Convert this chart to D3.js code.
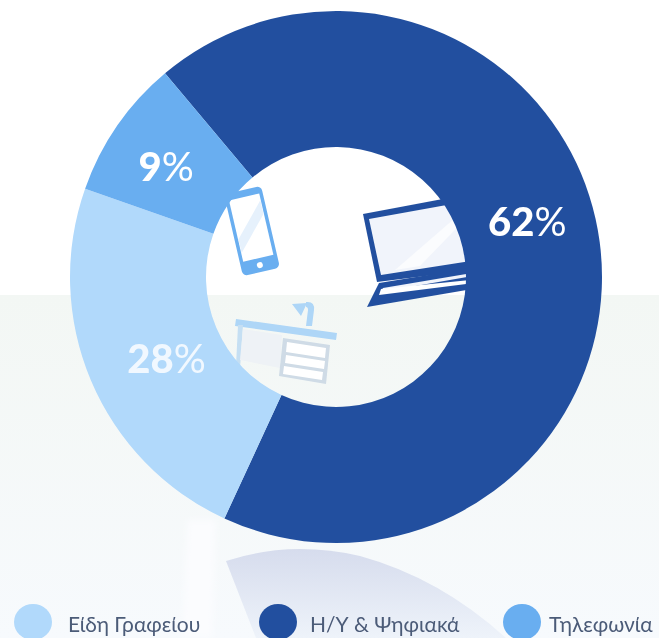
<!DOCTYPE html>
<html>
<head>
<meta charset="utf-8">
<script src="https://cdn.jsdelivr.net/npm/d3@7"></script>
<style>
  html, body { margin: 0; padding: 0; background: #fff; }
  svg { display: block; font-family: Lato, "Open Sans", sans-serif; }
</style>
</head>
<body>
<svg width="659" height="638"></svg>
<script>
// clockwise from the dark slice
var categories = ["Η/Υ & Ψηφιακά", "Είδη Γραφείου", "Τηλεφωνία"];
var labels = ["62%", "28%", "9%"];                 // as printed
var drawnShares = [68, 23.5, 8.5];                 // slice sizes, they differ from the printed ones
var colors = ["#23509f", "#b1d9fb", "#69aef0"];
var legendOrder = [1, 0, 2];

var width = 659, height = 638;
var cx = 336, cy = 277, outerR = 266, innerR = 130;
var startDeg = -40;
var labelShift = [[-5, -29], [13, 5], [-7, 2]];    // nudges from the slice centroid
var labelOpacity = [1, 0.82, 1];
var legendCircleX = [33, 278, 522];
var legendTextX = [68, 310, 549];

var svg = d3.select("svg");
var defs = svg.append("defs");

var bg = defs.append("linearGradient").attr("id", "bg").attr("x1", 0).attr("x2", 0).attr("y1", 0).attr("y2", 1);
bg.append("stop").attr("offset", 0).attr("stop-color", "#f3f7f4");
bg.append("stop").attr("offset", 1).attr("stop-color", "#f7fafd");

var refl = defs.append("linearGradient").attr("id", "refl").attr("x1", 0).attr("x2", 0).attr("y1", 0).attr("y2", 1);
refl.append("stop").attr("offset", 0).attr("stop-color", "#d6dced");
refl.append("stop").attr("offset", 1).attr("stop-color", "#eef3fa");

defs.append("filter").attr("id", "soft").append("feGaussianBlur").attr("stdDeviation", 0.7);
defs.append("filter").attr("id", "softer").append("feGaussianBlur").attr("stdDeviation", 3);

// background
svg.append("rect").attr("width", width).attr("height", height).attr("fill", "#fff");
svg.append("rect").attr("y", 295).attr("width", width).attr("height", height - 295).attr("fill", "url(#bg)");

// faint reflection of the donut on the floor
svg.append("path")
  .attr("d", "M226,561 Q290,540 360,556 Q440,578 506,638 L256,638 Z")
  .attr("fill", "url(#refl)")
  .attr("filter", "url(#soft)");
svg.append("path")
  .attr("d", "M188,520 L216,520 L212,638 L182,638 Z")
  .attr("fill", "#fbfcfe")
  .attr("filter", "url(#softer)");

// icons sit behind the ring, it cuts them off
var icons = svg.append("g").attr("filter", "url(#soft)");

// phone
var phone = icons.append("g").attr("transform", "translate(252,231) rotate(-13)");
phone.append("rect").attr("x", -19).attr("y", -42).attr("width", 38).attr("height", 84).attr("rx", 5).attr("fill", "#69aef0");
phone.append("rect").attr("x", -15.5).attr("y", -35).attr("width", 31).attr("height", 63).attr("fill", "#fff");
phone.append("path").attr("d", "M-15,5 L15,-28 L15,-14 L-15,19 Z").attr("fill", "#e6f1fc");
phone.append("circle").attr("cx", 0).attr("cy", 35).attr("r", 3).attr("fill", "#fff");

// laptop
icons.append("path").attr("d", "M363,214 L480,192 L490,268 L377,282 Z").attr("fill", "#23509f");
icons.append("path").attr("d", "M369,219 L480,199 L490,258 L381,275 Z").attr("fill", "#f1f4fb");
icons.append("path").attr("d", "M395,270 L470,205 L480,204 L420,266 Z").attr("fill", "#fbfcfe");
icons.append("path").attr("d", "M379,283 L490,265 L490,286 L367,307 Z").attr("fill", "#23509f");
icons.append("path").attr("d", "M383,288 L490,270 L490,273 L381,292 Z").attr("fill", "#f1f4fb");
icons.append("path").attr("d", "M381,289 L490,278 L490,281 L379,295 Z").attr("fill", "#fff");

// desk
icons.append("path").attr("d", "M236,319 L337,333 L336,340 L235,326 Z").attr("fill", "#aed6f7");
icons.append("path").attr("d", "M238,325 L243,325 L240,368 L236,366 Z").attr("fill", "#c5dff3");
icons.append("path").attr("d", "M243,329 L282,335 L280,368 L240,360 Z").attr("fill", "#eef2f6");
icons.append("path").attr("d", "M283,338 L330,345 L326,384 L279,376 Z").attr("fill", "#cfdbe6");
icons.append("path").attr("d", "M287,342 L326,348 L325,358 L286,352 Z").attr("fill", "#fff");
icons.append("path").attr("d", "M286,355 L325,361 L324,369 L285,363 Z").attr("fill", "#fff");
icons.append("path").attr("d", "M284,366 L323,372 L322,380 L283,374 Z").attr("fill", "#fff");
icons.append("path").attr("d", "M292,304 L307,303 L301,316 Z").attr("fill", "#aed6f7");
icons.append("path").attr("d", "M306,302 Q315,301 314,310 L312,326 L306,326 L308,310 Q308,307 306,307 Z").attr("fill", "#aed6f7");

// donut
var pie = d3.pie()
  .sort(null)
  .startAngle(startDeg * Math.PI / 180)
  .endAngle((startDeg + 360) * Math.PI / 180);
var arc = d3.arc().innerRadius(innerR).outerRadius(outerR);
var slices = pie(drawnShares);

var chartGroup = svg.append("g")
  .attr("transform", "translate(" + cx + "," + cy + ")")
  .attr("filter", "url(#soft)");

chartGroup.selectAll("path")
    .data(slices)
  .enter().append("path")
    .attr("d", arc)
    .attr("fill", function(d, i) { return colors[i]; });

var sliceLabels = chartGroup.selectAll("text")
    .data(slices)
  .enter().append("text")
    .attr("transform", function(d, i) {
      var c = arc.centroid(d);
      return "translate(" + (c[0] + labelShift[i][0]) + "," + (c[1] + labelShift[i][1]) + ")";
    })
    .attr("text-anchor", "middle")
    .attr("dy", "0.36em")
    .attr("fill", "#fff")
    .attr("fill-opacity", function(d, i) { return labelOpacity[i]; })
    .attr("font-size", 40)
    .attr("font-weight", 900);
sliceLabels.append("tspan").text(function(d, i) { return labels[i].replace("%", ""); });
sliceLabels.append("tspan").attr("font-weight", 400).text("%");

// legend
var legend = svg.append("g").attr("filter", "url(#soft)");
legendOrder.forEach(function(k, i) {
  legend.append("ellipse")
    .attr("cx", legendCircleX[i])
    .attr("cy", 622)
    .attr("rx", 19)
    .attr("ry", 18)
    .attr("fill", colors[k]);
  legend.append("text")
    .attr("x", legendTextX[i])
    .attr("y", 632)
    .attr("font-size", 21)
    .attr("fill", "#4c5b78")
    .text(categories[k]);
});
</script>
</body>
</html>
